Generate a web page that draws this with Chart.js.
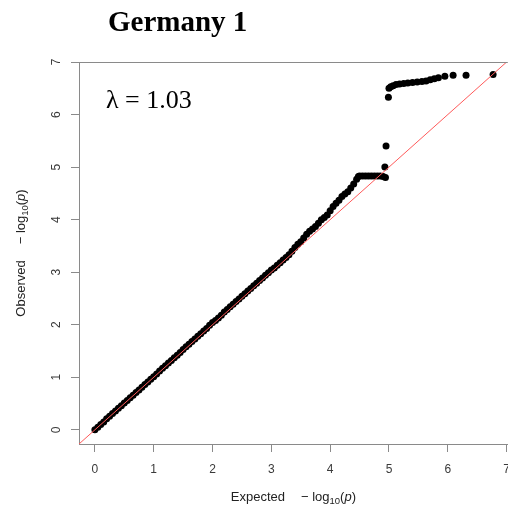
<!DOCTYPE html>
<html><head><meta charset="utf-8">
<script src="https://cdn.jsdelivr.net/npm/chart.js@4.4.1/dist/chart.umd.min.js"></script>
<style>
html,body{margin:0;padding:0;overflow:hidden;background:#fff;width:508px;height:507px}
#wrap{position:absolute;left:0;top:0;width:520px;height:507px}
</style></head><body>
<div id="wrap"><canvas id="c" width="520" height="507"></canvas></div>
<script>
const chartTitle = 'Germany 1';
const lambdaText = 'λ = 1.03';
const xTicks = [0, 1, 2, 3, 4, 5, 6, 7];
const yTicks = [0, 1, 2, 3, 4, 5, 6, 7];
const expected = [
  0.00,0.05,0.10,0.15,0.20,0.25,0.30,0.35,0.40,0.45,
  0.50,0.55,0.60,0.65,0.70,0.75,0.80,0.85,0.90,0.95,
  1.00,1.05,1.10,1.15,1.20,1.25,1.30,1.35,1.40,1.45,
  1.50,1.55,1.60,1.65,1.70,1.75,1.80,1.85,1.90,1.95,
  2.00,2.05,2.10,2.15,2.20,2.25,2.30,2.35,2.40,2.45,
  2.50,2.55,2.60,2.65,2.70,2.75,2.80,2.85,2.90,2.95,
  3.00,3.05,3.10,3.15,3.20,3.25,3.30,3.35,3.40,3.45,
  3.50,3.55,3.60,3.65,3.70,3.75,3.80,3.85,3.90,3.95,
  4.00,4.05,4.10,4.15,4.20,4.25,4.30,4.35,4.40,4.45,
  4.48,4.50,4.55,4.60,4.65,4.70,4.75,4.80,4.85,4.90,4.94,
  4.93,4.95,4.99,
  5.00,5.03,5.07,5.12,5.18,5.25,5.32,5.40,5.48,5.56,5.63,5.70,5.77,5.84,5.95,6.09,6.31,6.77
];
const observed = [
  0.00,0.05,0.10,0.15,0.21,0.26,0.31,0.36,0.41,0.46,
  0.51,0.56,0.61,0.66,0.71,0.76,0.81,0.86,0.91,0.96,
  1.01,1.06,1.12,1.17,1.22,1.27,1.32,1.37,1.42,1.47,
  1.53,1.58,1.63,1.68,1.73,1.78,1.83,1.88,1.93,1.99,
  2.04,2.08,2.13,2.18,2.24,2.29,2.34,2.39,2.44,2.49,
  2.54,2.59,2.64,2.69,2.74,2.79,2.84,2.89,2.94,2.99,
  3.04,3.08,3.13,3.18,3.23,3.28,3.33,3.40,3.47,3.53,
  3.58,3.65,3.72,3.78,3.82,3.87,3.93,4.00,4.04,4.09,
  4.17,4.25,4.31,4.37,4.44,4.49,4.53,4.60,4.68,4.77,
  4.82,4.83,4.83,4.83,4.83,4.83,4.83,4.83,4.83,4.82,4.80,
  5.00,5.40,6.33,
  6.50,6.53,6.55,6.57,6.58,6.59,6.60,6.61,6.62,6.63,6.64,6.66,6.68,6.70,6.73,6.75,6.75,6.76
];
const axisRange = { xMin: -0.27, xMax: 7.02, yMin: -0.27, yMax: 7.0 };
const refLine = [axisRange.xMin, axisRange.xMax];

const points = expected.map((e, i) => ({ x: e, y: observed[i] }));
const linePts = refLine.map(v => ({ x: v, y: v }));

const GRAY = '#8a8a8a';
const TICKCOL = '#3a3a3a';

function richParts(first) {
  return [
    { t: first, f: '13px "Liberation Sans"', dy: 0 },
    { gap: 16 },
    { t: '\u2212 log', f: '13px "Liberation Sans"', dy: 0 },
    { t: '10', f: '9.5px "Liberation Sans"', dy: 3 },
    { t: '(', f: '13px "Liberation Sans"', dy: 0 },
    { t: 'p', f: 'italic 13px "Liberation Sans"', dy: 0 },
    { t: ')', f: '13px "Liberation Sans"', dy: 0 }
  ];
}
function drawRich(ctx, parts, cx) {
  let w = 0;
  parts.forEach(p => { if (p.gap) w += p.gap; else { ctx.font = p.f; w += ctx.measureText(p.t).width; } });
  let x = cx - w / 2;
  parts.forEach(p => {
    if (p.gap) { x += p.gap; return; }
    ctx.font = p.f;
    ctx.fillText(p.t, x, p.dy);
    x += ctx.measureText(p.t).width;
  });
}

const textPlugin = {
  id: 'texts',
  afterDraw(chart) {
    const ctx = chart.ctx, a = chart.chartArea;
    ctx.save();
    // top border of the box
    ctx.strokeStyle = GRAY; ctx.lineWidth = 1;
    ctx.beginPath(); ctx.moveTo(a.left, a.top + 0.5); ctx.lineTo(a.right, a.top + 0.5); ctx.stroke();
    ctx.fillStyle = '#000';
    ctx.textBaseline = 'alphabetic'; ctx.textAlign = 'left';
    ctx.font = 'bold 29px "Liberation Serif"';
    ctx.fillText(chartTitle, 108, 31);
    ctx.font = '26px "Liberation Serif"';
    ctx.fillText(lambdaText, 106, 108);
    ctx.fillStyle = '#222';
    // x title
    ctx.save();
    ctx.translate(0, 501);
    drawRich(ctx, richParts('Expected'), (a.left + a.right) / 2);
    ctx.restore();
    // y title
    ctx.save();
    ctx.translate(25, 0);
    ctx.rotate(-Math.PI / 2);
    drawRich(ctx, richParts('Observed'), -(a.top + a.bottom) / 2);
    ctx.restore();
    ctx.restore();
  }
};

new Chart(document.getElementById('c'), {
  type: 'scatter',
  data: {
    datasets: [
      { type: 'scatter', data: points, order: 1, pointRadius: 3.5, pointHoverRadius: 3.5,
        backgroundColor: '#000', borderWidth: 0 },
      { type: 'line', data: linePts, order: 0, borderColor: '#ff5a5a', borderWidth: 1,
        pointRadius: 0, fill: false, tension: 0 }
    ]
  },
  options: {
    responsive: false, animation: false, devicePixelRatio: 1,
    layout: { padding: { top: 62, right: 11, left: 0, bottom: 0 } },
    plugins: { legend: { display: false }, tooltip: { enabled: false }, title: { display: false } },
    scales: {
      x: {
        type: 'linear', min: axisRange.xMin, max: axisRange.xMax,
        afterBuildTicks: s => { s.ticks = xTicks.map(v => ({ value: v })); },
        afterFit: s => { s.height = 63; },
        grid: { drawOnChartArea: false, drawTicks: true, tickLength: 8, color: GRAY, lineWidth: 1 },
        border: { display: true, color: GRAY, width: 1 },
        ticks: { autoSkip: false, includeBounds: false, padding: 10, color: TICKCOL, maxRotation: 0,
                 font: { family: '"Liberation Sans"', size: 12 } }
      },
      y: {
        type: 'linear', min: axisRange.yMin, max: axisRange.yMax,
        afterBuildTicks: s => { s.ticks = yTicks.map(v => ({ value: v })); },
        afterFit: s => { s.width = 79; },
        grid: { drawOnChartArea: false, drawTicks: true, tickLength: 8, color: GRAY, lineWidth: 1 },
        border: { display: true, color: GRAY, width: 1 },
        ticks: { autoSkip: false, includeBounds: false, padding: 11, color: TICKCOL,
                 minRotation: 90, maxRotation: 90, crossAlign: 'center',
                 font: { family: '"Liberation Sans"', size: 12 } }
      }
    }
  },
  plugins: [textPlugin]
});
</script>
</body></html>
